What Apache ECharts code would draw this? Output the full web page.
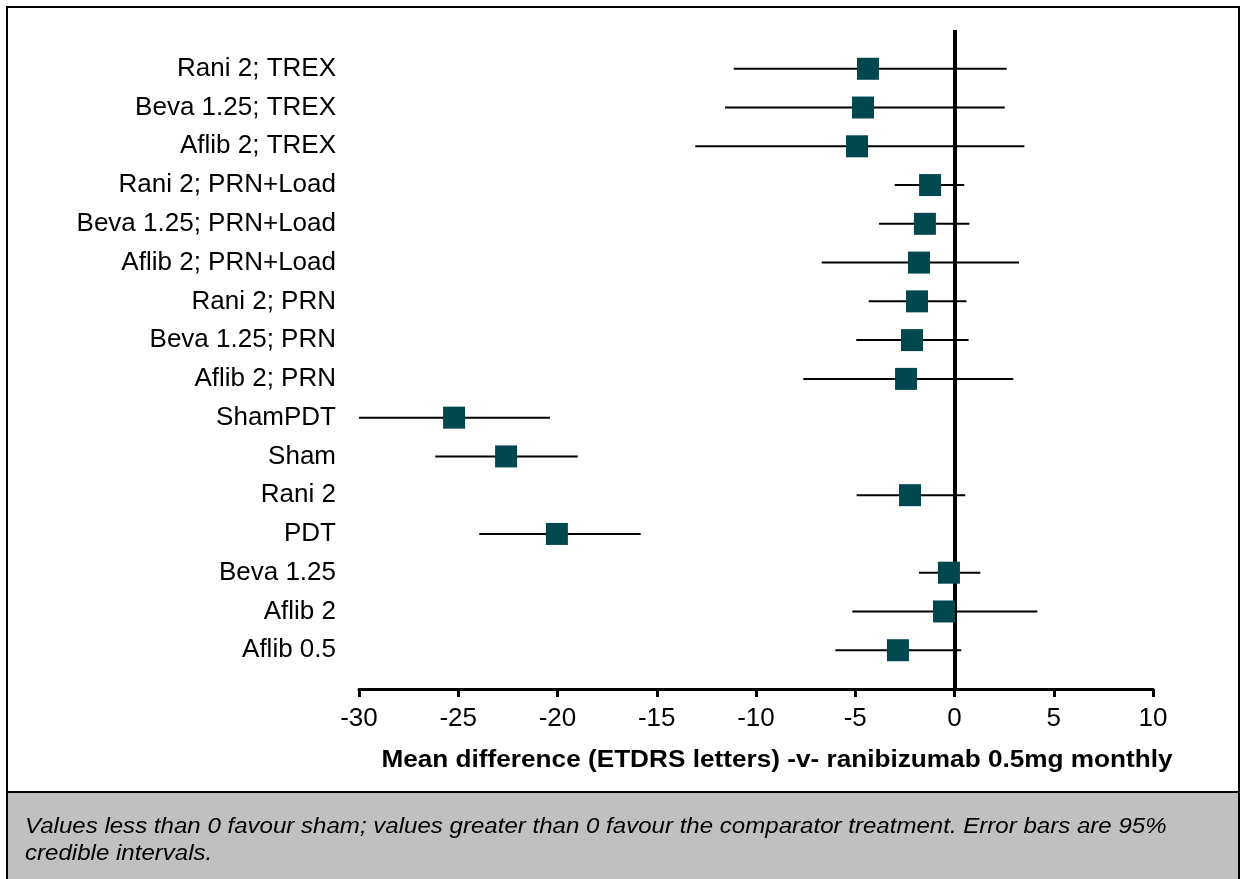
<!DOCTYPE html>
<html>
<head>
<meta charset="utf-8">
<script src="https://cdn.jsdelivr.net/npm/echarts@6/dist/echarts.min.js"></script>
<style>
  html, body { margin: 0; padding: 0; background: #fff; }
  #chart { width: 1245px; height: 879px; }
</style>
</head>
<body>
<div id="chart"></div>
<script>
// Treatment comparisons, listed top to bottom
const categories = [
  'Rani 2; TREX', 'Beva 1.25; TREX', 'Aflib 2; TREX',
  'Rani 2; PRN+Load', 'Beva 1.25; PRN+Load', 'Aflib 2; PRN+Load',
  'Rani 2; PRN', 'Beva 1.25; PRN', 'Aflib 2; PRN',
  'ShamPDT', 'Sham', 'Rani 2', 'PDT', 'Beva 1.25', 'Aflib 2', 'Aflib 0.5'
];
// Mean difference and 95% credible interval bounds (ETDRS letters)
const meanDiff = [-4.36, -4.61, -4.91, -1.23, -1.49, -1.79, -1.89, -2.14, -2.44, -25.21, -22.59, -2.24, -20.03, -0.28, -0.53, -2.85];
const lowerCrI = [-11.12, -11.56, -13.06, -3.01, -3.80, -6.69, -4.32, -4.95, -7.62, -30.00, -26.16, -4.93, -23.94, -1.79, -5.15, -6.00];
const upperCrI = [2.63, 2.53, 3.52, 0.49, 0.75, 3.25, 0.60, 0.71, 2.96, -20.38, -18.98, 0.54, -15.81, 1.30, 4.17, 0.34];
// X axis ticks
const xMin = -30, xMax = 10, xStep = 5;

const FONT = "'Liberation Sans', Arial, sans-serif";

const chart = echarts.init(document.getElementById('chart'), null, { renderer: 'canvas' });

const intervalData = categories.map((c, i) => [lowerCrI[i], upperCrI[i], i]);
const pointData = categories.map((c, i) => [meanDiff[i], i]);

chart.setOption({
  animation: false,
  backgroundColor: '#ffffff',
  grid: { left: 359, right: 92, top: 30, bottom: 190, containLabel: false },
  xAxis: {
    type: 'value', min: xMin, max: xMax, interval: xStep,
    axisLine: { show: true, onZero: false, lineStyle: { color: '#000', width: 3 } },
    axisTick: { show: true, length: 8, lineStyle: { color: '#000', width: 3 } },
    splitLine: { show: false },
    axisLabel: { color: '#000', fontSize: 26, fontFamily: FONT, margin: 17 }
  },
  yAxis: {
    type: 'value', inverse: true, min: -1, max: 16, interval: 1,
    axisLine: { show: false }, axisTick: { show: false }, splitLine: { show: false },
    axisLabel: {
      color: '#000', fontSize: 26, fontFamily: FONT, margin: 23,
      formatter: v => (categories[v] !== undefined ? categories[v] : '')
    }
  },
  graphic: [
    // outer frame
    { type: 'rect', z: 0, shape: { x: 7, y: 7, width: 1232, height: 900 },
      style: { fill: 'none', stroke: '#000', lineWidth: 2 } },
    // footnote panel
    { type: 'rect', z: 1, shape: { x: 7, y: 792, width: 1232, height: 120 },
      style: { fill: '#c0c0c0', stroke: '#000', lineWidth: 2 } },
    { type: 'text', z: 2, x: 25, y: 813, scaleX: 1.094,
      style: { text: 'Values less than 0 favour sham; values greater than 0 favour the comparator treatment. Error bars are 95%\ncredible intervals.',
        fill: '#000', font: "italic 22px " + FONT, lineHeight: 27 } },
    // x axis title
    { type: 'text', z: 2, x: 777, y: 761, scaleX: 1.138,
      style: { text: 'Mean difference (ETDRS letters) -v- ranibizumab 0.5mg monthly',
        fill: '#000', font: "bold 23px " + FONT, textAlign: 'center', textVerticalAlign: 'middle' } }
  ],
  series: [
    {
      type: 'custom', z: 2,
      data: intervalData,
      encode: { x: [0, 1], y: 2 },
      renderItem: (params, api) => {
        const y = api.value(2);
        const p1 = api.coord([api.value(0), y]);
        const p2 = api.coord([api.value(1), y]);
        return { type: 'line', shape: { x1: p1[0], y1: p1[1], x2: p2[0], y2: p2[1] },
          style: { stroke: '#000', lineWidth: 2 } };
      },
      markLine: {
        silent: true, symbol: 'none', label: { show: false },
        lineStyle: { color: '#000', width: 4, type: 'solid' },
        data: [{ xAxis: 0 }]
      }
    },
    {
      type: 'scatter', z: 5,
      data: pointData,
      symbol: 'rect', symbolSize: 22,
      itemStyle: { color: '#00474f', opacity: 1 }
    }
  ]
});
</script>
</body>
</html>
